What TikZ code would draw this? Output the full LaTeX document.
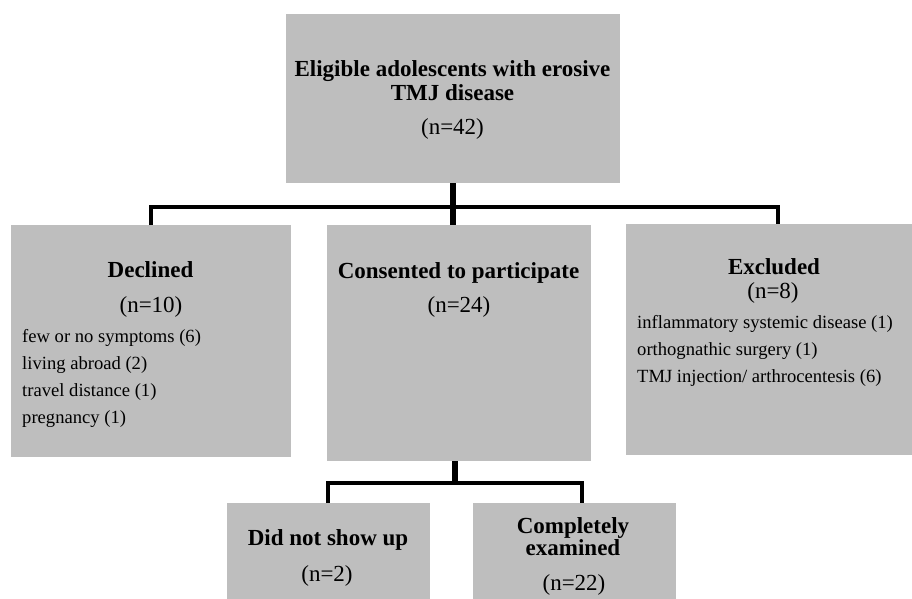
\documentclass[tikz,border=0pt]{standalone}
\usepackage{fontspec}
\setmainfont{Liberation Serif}
\definecolor{boxgray}{RGB}{190,190,190}
\begin{document}
\begin{tikzpicture}[x=1pt,y=-1pt,
  box/.style={fill=boxgray,draw=none,inner sep=0pt,outer sep=0pt},
  ttl/.style={anchor=base,inner sep=0pt,font=\fontsize{23}{23}\selectfont\bfseries},
  cnt/.style={anchor=base,inner sep=0pt,font=\fontsize{23}{23}\selectfont},
  det/.style={anchor=base west,inner sep=0pt,font=\fontsize{18.6}{18.6}\selectfont},
  conn/.style={line width=4.5pt,draw=black},
  stem/.style={line width=6.5pt,draw=black}]
\useasboundingbox (0,0) rectangle (912,599);
% boxes
\node[box,minimum width=334pt,minimum height=169pt] (top) at (453,98.5) {};
\node[box,minimum width=280pt,minimum height=232pt] (declined) at (151,341) {};
\node[box,minimum width=264pt,minimum height=236pt] (consent) at (459,343) {};
\node[box,minimum width=286pt,minimum height=231pt] (excluded) at (769,339.5) {};
\node[box,minimum width=203pt,minimum height=96pt] (noshow) at (328.5,551) {};
\node[box,minimum width=203pt,minimum height=96pt] (complete) at (574.5,551) {};
% connectors
\coordinate (hl) at (0,207);
\coordinate (hl2) at (0,483);
\coordinate (exin) at (778,224);
\draw[conn] (declined.north) -- (declined.north |- hl) -- (exin |- hl) -- (exin);
\draw[stem] (top.south) -- (top.south |- consent.north);
\coordinate (nsin) at (328,503);
\coordinate (cmin) at (582,503);
\draw[conn] (nsin) -- (nsin |- hl2) -- (cmin |- hl2) -- (cmin);
\coordinate (cbot) at (455,461);
\draw[stem] (cbot) -- (cbot |- hl2);
% texts
\node[ttl] (t1) at (452.5,77) {Eligible adolescents with erosive};
\node[ttl] (t2) at (452.5,101) {TMJ disease};
\node[cnt] (t3) at (452.5,135) {(n=42)};
\node[ttl] (d1) at (150.5,277) {Declined};
\node[cnt] (d2) at (151,312) {(n=10)};
\node[det] (d3) at (22,342) {few or no symptoms (6)};
\node[det] (d4) at (22,369) {living abroad (2)};
\node[det] (d5) at (22,396) {travel distance (1)};
\node[det] (d6) at (22,423) {pregnancy (1)};
\node[ttl] (c1) at (458.5,278) {Consented to participate};
\node[cnt] (c2) at (459,312) {(n=24)};
\node[ttl] (e1) at (774,274) {Excluded};
\node[cnt] (e2) at (773,298) {(n=8)};
\node[det] (e3) at (637,328) {inflammatory systemic disease (1)};
\node[det] (e4) at (637,355) {orthognathic surgery (1)};
\node[det] (e5) at (637,382) {TMJ injection/ arthrocentesis (6)};
\node[ttl] (n1) at (328,545) {Did not show up};
\node[cnt] (n2) at (327,581) {(n=2)};
\node[ttl] (m1) at (573,533) {Completely};
\node[ttl] (m2) at (573,555) {examined};
\node[cnt] (m3) at (574,590) {(n=22)};
\end{tikzpicture}
\end{document}
